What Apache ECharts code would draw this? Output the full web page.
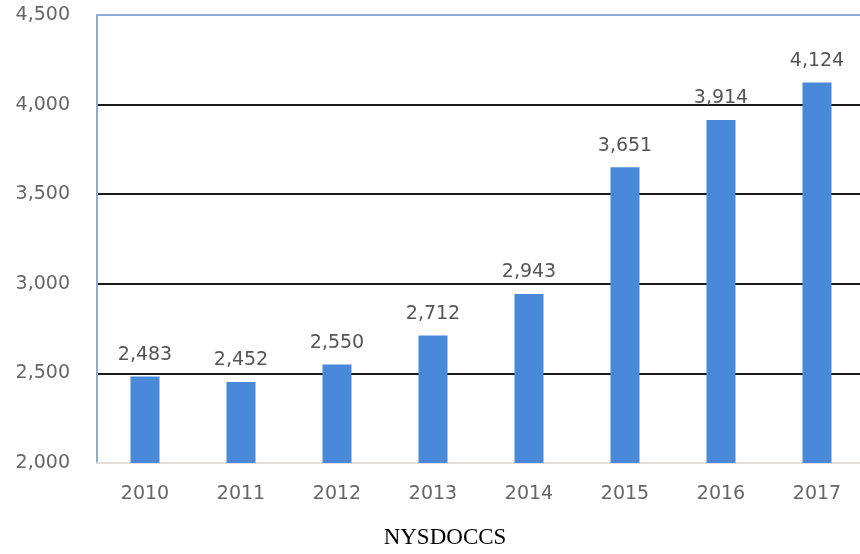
<!DOCTYPE html>
<html><head><meta charset="utf-8">
<script src="https://cdn.jsdelivr.net/npm/echarts@6/dist/echarts.min.js"></script>
<style>html,body{margin:0;padding:0;background:#fff;overflow:hidden}#c{width:860px;height:554px}</style>
</head><body><div id="c"></div>
<script>
const categories = ['2010','2011','2012','2013','2014','2015','2016','2017'];
const values = [2483, 2452, 2550, 2712, 2943, 3651, 3914, 4124];
const yTicks = [2000, 2500, 3000, 3500, 4000, 4500];
const sourceText = 'NYSDOCCS';

const fmt = v => Number(v).toLocaleString('en-US');
const chart = echarts.init(document.getElementById('c'));
chart.setOption({
  animation: false,
  backgroundColor: '#fff',
  grid: { left: 97, top: 15, width: 768, bottom: 91, containLabel: false, outerBoundsMode: 'none' },
  xAxis: {
    type: 'category', data: categories,
    axisLine: { show: true, lineStyle: { color: '#e2ddd8', width: 2 } },
    axisTick: { show: false },
    splitLine: { show: false },
    axisLabel: { color: '#666', fontFamily: 'DejaVu Sans', fontSize: 19, margin: 22 }
  },
  yAxis: {
    type: 'value', min: yTicks[0], max: yTicks[yTicks.length - 1], interval: 500,
    axisLine: { show: true, lineStyle: { color: '#8eaad6', width: 2 } },
    axisTick: { show: false },
    axisLabel: { color: '#666', fontFamily: 'DejaVu Sans', fontSize: 19, margin: 27, formatter: fmt },
    splitLine: { show: true, lineStyle: { color: ['#e2ddd8','#1a1a1a','#1a1a1a','#1a1a1a','#1a1a1a','#8eaad6'], width: 2 } }
  },
  series: [{
    type: 'bar', data: values, barWidth: 29,
    itemStyle: { color: '#4a88d9' },
    label: { show: true, position: 'top', distance: 12, color: '#555', fontFamily: 'DejaVu Sans', fontSize: 19, formatter: p => fmt(p.value) }
  }],
  graphic: [{
    type: 'text', x: 445, y: 538,
    style: { text: sourceText, fill: '#000', font: '23px "Liberation Serif"', align: 'center', verticalAlign: 'middle' }
  }]
});
</script></body></html>
